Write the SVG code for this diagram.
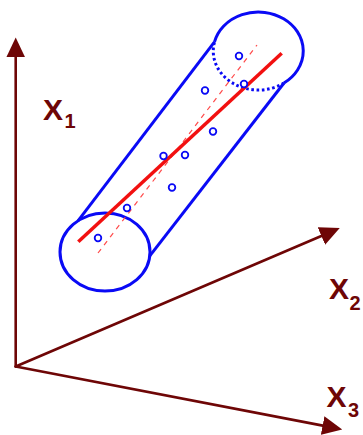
<svg xmlns="http://www.w3.org/2000/svg" width="363" height="435" viewBox="0 0 363 435">
  <style>
    .axis { stroke: #6e0606; stroke-width: 2.6; fill: none; stroke-linecap: round; marker-end: url(#ah); }
    .lab { font-family: "Liberation Sans", Arial, sans-serif; font-weight: bold; font-size: 30px; fill: #6e0606; }
    .sub { font-size: 20px; }
    .cyl { stroke: #0a0af5; stroke-width: 3; fill: none; }
    .dot { stroke: #0a0af5; stroke-width: 3; fill: none; stroke-dasharray: 2.6 2.6; }
    .pt { stroke: #0a0af5; stroke-width: 1.8; fill: #fff; }
  </style>
  <defs>
    <marker id="ah" markerUnits="userSpaceOnUse" markerWidth="20" markerHeight="20" viewBox="0 0 19 18" refX="9" refY="9" orient="auto">
      <path d="M0,0 L19,9 L0,18 Z" fill="#6e0606"/>
    </marker>
  </defs>
  <rect width="363" height="435" fill="#fff"/>

  <g id="axes">
    <line id="axis-x1" class="axis" x1="15.7" y1="366.5" x2="15.7" y2="48"/>
    <line id="axis-x2" class="axis" x1="15.7" y1="366.5" x2="330.1" y2="232.2"/>
    <line id="axis-x3" class="axis" x1="15.7" y1="366.5" x2="331.9" y2="427.4"/>
  </g>

  <g id="label-x1"><text class="lab" x="43" y="119.5">X<tspan class="sub" x="64.5" y="128.3">1</tspan></text></g>
  <g id="label-x2"><text class="lab" x="329" y="298.5">X<tspan class="sub" x="349.5" y="310">2</tspan></text></g>
  <g id="label-x3"><text class="lab" x="326.5" y="406.7">X<tspan class="sub" x="348" y="416.7">3</tspan></text></g>

  <g id="cylinder">
    <ellipse class="cyl" cx="105" cy="252" rx="45" ry="39"/>
    <line class="cyl" x1="78" y1="220.8" x2="214.5" y2="41.9"/>
    <line class="cyl" x1="149.8" y1="255.9" x2="284" y2="83"/>
    <path class="cyl" d="M214.5,41.9 A45,39 0 1 1 284,83"/>
    <path class="dot" d="M284,83 A45,39 0 0 1 214.5,41.9"/>
  </g>

  <g id="fit-lines">
    <line x1="98" y1="253" x2="257" y2="45" stroke="#ff4a4a" stroke-width="1.2" stroke-dasharray="5 5"/>
    <line x1="78.3" y1="241.7" x2="281.7" y2="53.3" stroke="#f21010" stroke-width="3.5"/>
  </g>

  <g id="points">
    <circle class="pt" cx="239" cy="56" r="3.3"/>
    <circle class="pt" cx="244" cy="84" r="3.3"/>
    <circle class="pt" cx="205" cy="90.5" r="3.3"/>
    <circle class="pt" cx="213" cy="131.5" r="3.3"/>
    <circle class="pt" cx="163.5" cy="156" r="3.3"/>
    <circle class="pt" cx="185" cy="155" r="3.3"/>
    <circle class="pt" cx="172" cy="187.5" r="3.3"/>
    <circle class="pt" cx="127" cy="208" r="3.3"/>
    <circle class="pt" cx="98" cy="238" r="3.3"/>
  </g>
</svg>
